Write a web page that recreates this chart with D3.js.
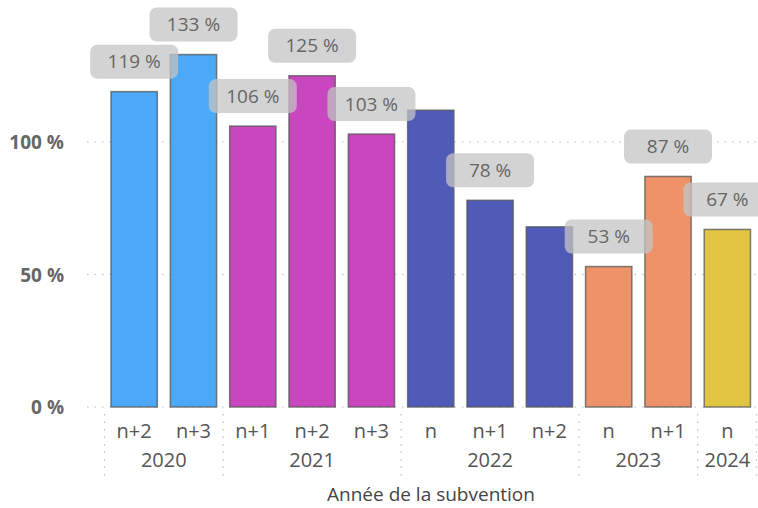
<!DOCTYPE html>
<html><head><meta charset="utf-8">
<script src="https://cdn.jsdelivr.net/npm/d3@7"></script>
<style>body{margin:0;background:#fff}svg{display:block;font-family:"Open Sans",sans-serif}</style>
</head><body><svg id="c" width="758" height="508"></svg>
<script>
const years = ["2020","2020","2021","2021","2021","2022","2022","2022","2023","2023","2024"];
const periods = ["n+2","n+3","n+1","n+2","n+3","n","n+1","n+2","n","n+1","n"];
const values = [119,133,106,125,103,112,78,68,53,87,67];
const labelShown = [true,true,true,true,true,false,true,false,true,true,true];
const yTicks = [0,50,100];
const yearOrder = ["2020","2021","2022","2023","2024"];
const yearColors = ["#4BA9F7","#C846BE","#505BB8","#EE926A","#E0C442"];

const svg = d3.select("#c");
const keys = values.map((d,i)=>i);
const x = d3.scaleBand().domain(keys).range([104.5,757]).paddingInner(0.22).paddingOuter(0.11);
const y = d3.scaleLinear().domain([0,100]).range([407,142]);
const color = d3.scaleOrdinal().domain(yearOrder).range(yearColors);

// gridlines
svg.append("g").selectAll("line").data(yTicks).join("line")
  .attr("x1",87).attr("x2",757).attr("y1",d=>y(d)).attr("y2",d=>y(d))
  .attr("stroke","#bbb").attr("stroke-dasharray","1.5,6").attr("stroke-width",1.2);

// y axis labels
const yAxis = d3.axisLeft(y).tickValues(yTicks).tickFormat(d=>d+" %").tickSize(0).tickPadding(0);
const ga = svg.append("g").attr("transform","translate(64,0)").call(yAxis);
ga.select(".domain").remove();
ga.selectAll("text").attr("fill","#666").style("font-size","19px").style("font-weight","700")
  .style("font-family","'Open Sans',sans-serif").attr("dy","0.35em");

// bars
svg.append("g").selectAll("rect").data(keys).join("rect")
  .attr("x",i=>x(i)).attr("width",x.bandwidth())
  .attr("y",i=>y(values[i])).attr("height",i=>y(0)-y(values[i]))
  .attr("fill",i=>color(years[i])).attr("stroke","#555").attr("stroke-opacity",0.75).attr("stroke-width",1.5);

// data labels
const lg = svg.append("g").selectAll("g").data(keys.filter(i=>labelShown[i])).join("g")
  .attr("transform",i=>`translate(${x(i)+x.bandwidth()/2},${y(values[i])-30})`);
lg.append("rect").attr("x",-44).attr("y",-17).attr("width",88).attr("height",34).attr("rx",7)
  .attr("fill","#c4c4c4").attr("fill-opacity",0.75);
lg.append("text").attr("text-anchor","middle").attr("dy","0.35em").attr("fill","#666")
  .style("font-size","19px").text(i=>values[i]+" %");

// x axis period labels
const xAxis = d3.axisBottom(x).tickFormat(i=>periods[i]).tickSize(0).tickPadding(0);
const gx = svg.append("g").attr("transform","translate(0,431)").call(xAxis);
gx.select(".domain").remove();
gx.selectAll("text").attr("fill","#555").style("font-size","20px").attr("dy","0.35em")
  .style("font-family","'Open Sans',sans-serif");

// year groups
const groups = yearOrder.map(yr=>{
  const idx = keys.filter(i=>years[i]===yr);
  return {yr, first: idx[0], last: idx[idx.length-1]};
});
const step = x.step();
const sepX = groups.map(g=>x(g.first)-(step-x.bandwidth())/2);
sepX.push(x(keys.length-1)+x.bandwidth()+(step-x.bandwidth())/2);
svg.append("g").selectAll("line").data(sepX).join("line")
  .attr("x1",d=>Math.min(d,756.5)).attr("x2",d=>Math.min(d,756.5)).attr("y1",414).attr("y2",478)
  .attr("stroke","#bbb").attr("stroke-dasharray","1.5,6").attr("stroke-width",1.2);
svg.append("g").selectAll("text").data(groups).join("text")
  .attr("x",g=>(x(g.first)+x(g.last)+x.bandwidth())/2).attr("y",460).attr("dy","0.35em")
  .attr("text-anchor","middle").attr("fill","#555").style("font-size","20px").text(g=>g.yr);

// axis title
svg.append("text").attr("x",431).attr("y",494).attr("dy","0.35em").attr("text-anchor","middle")
  .attr("fill","#444").style("font-size","19px").text("Année de la subvention");
</script></body></html>
